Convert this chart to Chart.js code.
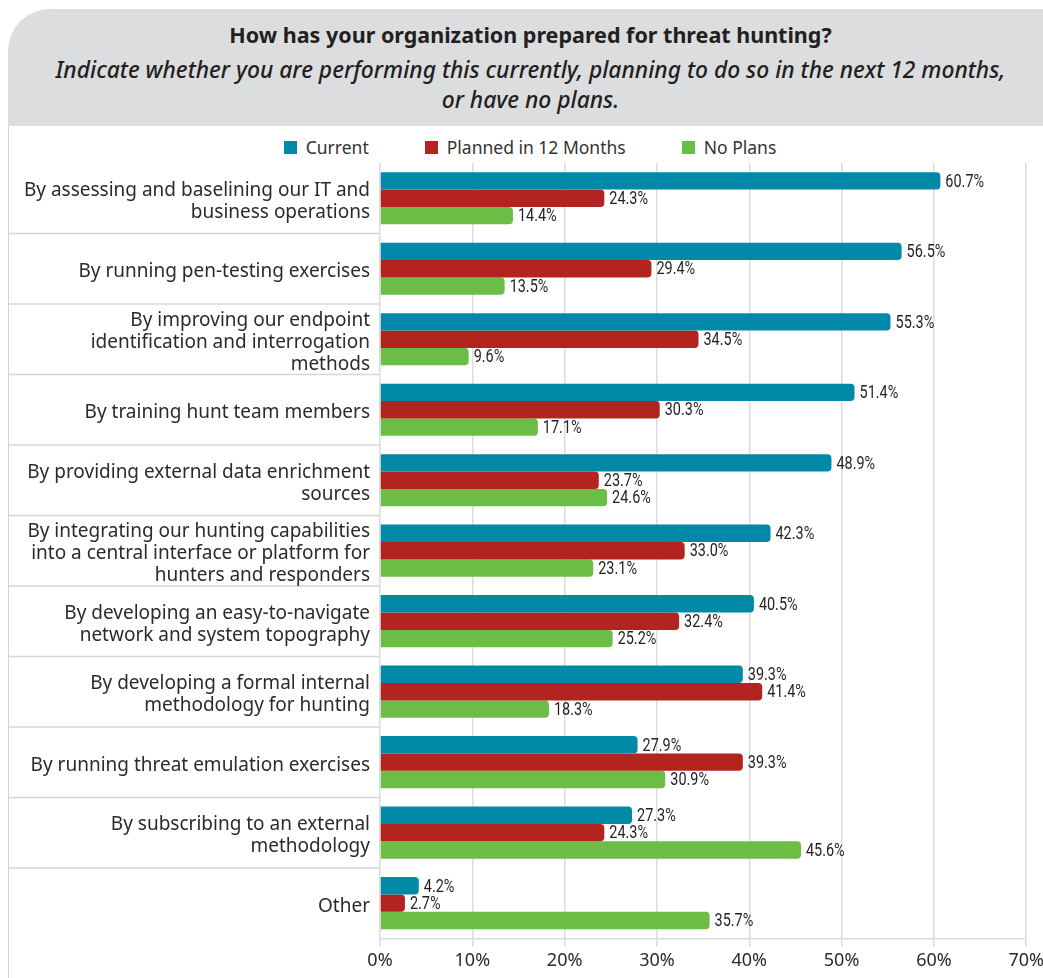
<!DOCTYPE html>
<html>
<head>
<meta charset="utf-8">
<script src="https://cdn.jsdelivr.net/npm/chart.js@4.4.1/dist/chart.umd.min.js"></script>
<style>
  html, body { margin: 0; padding: 0; background: #fff; }
  body { width: 1043px; height: 978px; position: relative; overflow: hidden; font-family: "Noto Sans", sans-serif; }
  #header {
    position: absolute; left: 8px; top: 9px; width: 1035px; height: 117px;
    background: #dcdddf; border-top-left-radius: 42px; text-align: center; color: #231f20;
  }
  #header .t1 { position: absolute; left: 0; right: 0; top: 11px; line-height: 30px; font-size: 21.5px; font-weight: bold; padding-left: 10px; }
  #header .t2 { position: absolute; left: 0; right: 0; top: 46px; line-height: 30px; font-size: 22.8px; font-style: italic; font-weight: 500; padding-left: 10px; }
  #frame { position: absolute; left: 8px; top: 126px; width: 1px; height: 852px; background: #d4d4d4; }
  #legend {
    position: absolute; left: 0; top: 136px; width: 1060px; height: 22px;
    display: flex; justify-content: center; align-items: center; font-size: 17.5px; color: #333;
  }
  #legend .item { display: flex; align-items: center; margin: 0 28px; }
  #legend .sw { width: 13px; height: 13px; margin-right: 9px; }
  #wrap { position: absolute; left: 0; top: 126px; width: 1048px; height: 852px; }
</style>
</head>
<body>
<div id="header">
  <div class="t1">How has your organization prepared for threat hunting?</div>
  <div class="t2">Indicate whether you are performing this currently, planning to do so in the next 12 months,<br>or have no plans.</div>
</div>
<div id="frame"></div>
<div id="legend"></div>
<div id="wrap"><canvas id="myChart"></canvas></div>
<script>
// data
const categories = [
    ['By assessing and baselining our IT and', 'business operations'],
    'By running pen-testing exercises',
    ['By improving our endpoint', 'identification and interrogation', 'methods'],
    'By training hunt team members',
    ['By providing external data enrichment', 'sources'],
    ['By integrating our hunting capabilities', 'into a central interface or platform for', 'hunters and responders'],
    ['By developing an easy-to-navigate', 'network and system topography'],
    ['By developing a formal internal', 'methodology for hunting'],
    'By running threat emulation exercises',
    ['By subscribing to an external', 'methodology'],
    'Other'
];
const current_values = [60.7, 56.5, 55.3, 51.4, 48.9, 42.3, 40.5, 39.3, 27.9, 27.3, 4.2];
const planned_values = [24.3, 29.4, 34.5, 30.3, 23.7, 33.0, 32.4, 41.4, 39.3, 24.3, 2.7];
const no_plans_values = [14.4, 13.5, 9.6, 17.1, 24.6, 23.1, 25.2, 18.3, 30.9, 45.6, 35.7];
const series_names = ['Current', 'Planned in 12 Months', 'No Plans'];
const x_ticks = [0, 10, 20, 30, 40, 50, 60, 70];

const colors = ['#0389a8', '#b3231f', '#6cbd45'];

// legend (html)
const legend = document.getElementById('legend');
series_names.forEach((name, i) => {
    const item = document.createElement('div');
    item.className = 'item';
    item.innerHTML = '<span class="sw" style="background:' + colors[i] + '"></span><span>' + name + '</span>';
    legend.appendChild(item);
});

// separators between categories in the label area
const separators = {
    id: 'separators',
    beforeDraw(chart) {
        const y = chart.scales.y;
        const ctx = chart.ctx;
        ctx.save();
        ctx.strokeStyle = '#d6d6d6';
        ctx.lineWidth = 1.5;
        for (let i = 0; i < categories.length - 1; i++) {
            const yy = (y.getPixelForValue(i) + y.getPixelForValue(i + 1)) / 2;
            ctx.beginPath();
            ctx.moveTo(9, yy);
            ctx.lineTo(chart.chartArea.left, yy);
            ctx.stroke();
        }
        ctx.restore();
    }
};

// value labels at the end of bars
const valueLabels = {
    id: 'valueLabels',
    afterDatasetsDraw(chart) {
        const ctx = chart.ctx;
        ctx.save();
        ctx.fillStyle = '#231f20';
        ctx.font = '19px Roboto';
        ctx.textBaseline = 'middle';
        ctx.textAlign = 'left';
        chart.data.datasets.forEach((ds, di) => {
            const meta = chart.getDatasetMeta(di);
            meta.data.forEach((el, i) => {
                ctx.save();
                ctx.translate(el.x + 5, el.y + 1);
                ctx.scale(0.76, 1);
                ctx.fillText(ds.data[i].toFixed(1) + '%', 0, 0);
                ctx.restore();
            });
        });
        ctx.restore();
    }
};

const datasets = [current_values, planned_values, no_plans_values].map((vals, i) => ({
    label: series_names[i],
    data: vals,
    backgroundColor: colors[i],
    borderRadius: 4,
    borderSkipped: 'start',
    categoryPercentage: 0.74,
    barPercentage: 1.0
}));

const config = {
    type: 'bar',
    data: { labels: categories, datasets: datasets },
    options: {
        indexAxis: 'y',
        responsive: true,
        maintainAspectRatio: false,
        animation: false,
        layout: { padding: { top: 37, right: 0, bottom: 2, left: 0 } },
        plugins: {
            legend: { display: false },
            tooltip: { enabled: false }
        },
        scales: {
            x: {
                min: 0,
                max: 70,
                afterBuildTicks: (scale) => { scale.ticks = x_ticks.map(v => ({ value: v })); },
                grid: { color: '#dcdcdc', lineWidth: 1.5, tickLength: 8 },
                border: { color: '#dcdcdc', width: 1.5 },
                ticks: {
                    padding: 4,
                    color: '#2b2b2b',
                    font: { family: 'Noto Sans', size: 18 },
                    callback: (v) => v + '%'
                }
            },
            y: {
                afterFit: (scale) => { scale.width = 380; },
                grid: { display: false },
                border: { display: false },
                ticks: {
                    padding: 2,
                    labelOffset: 3,
                    color: '#2b2b2b',
                    font: { family: 'Noto Sans', size: 19, lineHeight: 1.16 }
                }
            }
        }
    },
    plugins: [separators, valueLabels]
};

const myChart = new Chart(document.getElementById('myChart'), config);
</script>
</body>
</html>
